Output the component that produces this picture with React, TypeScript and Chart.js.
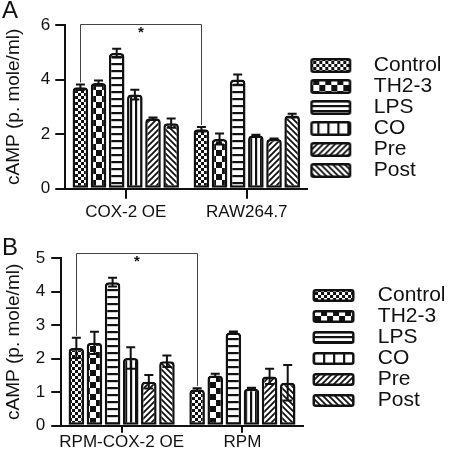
import React, { useEffect, useRef } from 'react';
import { Chart, registerables } from 'chart.js';

Chart.register(...registerables);

const FONT = "'Liberation Sans', Arial, Helvetica, sans-serif";
const INK = '#111';

// ---- data ----
const SERIES = ['Control', 'TH2-3', 'LPS', 'CO', 'Pre', 'Post'];
const PATTERN_KINDS = ['fineCheck', 'coarseCheck', 'hLines', 'vLines', 'diagUp', 'diagDown'];
const Y_TITLE = 'cAMP (p. mole/ml)';

// Panel A
const A_CATEGORIES = ['COX-2 OE', 'RAW264.7'];
const A_COX2_OE = [3.72, 3.87, 4.97, 3.45, 2.57, 2.4];
const A_COX2_OE_ERR = [0.1, 0.1, 0.16, 0.18, 0.04, 0.17];
const A_RAW = [2.18, 1.82, 4.0, 1.95, 1.82, 2.68];
const A_RAW_ERR = [0.08, 0.2, 0.19, 0.03, 0.02, 0.07];
const A_Y_MAX = 6;
const A_Y_STEP = 2;
const A_BRACKET_LEVEL = 6.04;

// Panel B
const B_CATEGORIES = ['RPM-COX-2 OE', 'RPM'];
const B_RPM_COX2 = [2.32, 2.47, 4.28, 2.02, 1.31, 1.92];
const B_RPM_COX2_ERR = [0.3, 0.33, 0.13, 0.32, 0.2, 0.17];
const B_RPM = [1.08, 1.5, 2.78, 1.1, 1.47, 1.28];
const B_RPM_ERR = [0.04, 0.05, 0.03, 0.03, 0.23, 0.53];
const B_Y_MAX = 5;
const B_Y_STEP = 1;
const B_BRACKET_LEVEL = 5.16;

// ---- patterns ----
function patternTile(kind: string, legend: boolean): HTMLCanvasElement {
  const c = document.createElement('canvas');
  let w = 6;
  let h = 6;
  if (kind === 'coarseCheck') { w = 12; h = 12; }
  if (kind === 'hLines') { w = 4; h = legend ? 5 : 7; }
  if (kind === 'vLines') { w = legend ? 10 : 5; h = 4; }
  c.width = w;
  c.height = h;
  const ctx = c.getContext('2d') as CanvasRenderingContext2D;
  ctx.fillStyle = '#fff';
  ctx.fillRect(0, 0, w, h);
  ctx.fillStyle = INK;
  ctx.strokeStyle = INK;
  switch (kind) {
    case 'fineCheck':
      ctx.fillRect(0, 0, 6, 6);
      ctx.fillStyle = '#fff';
      ctx.fillRect(0, 0, 3, 3);
      ctx.fillRect(3, 3, 3, 3);
      break;
    case 'coarseCheck':
      ctx.fillRect(0, 0, 12, 12);
      ctx.fillStyle = '#fff';
      ctx.fillRect(0, 0, 6, 6);
      ctx.fillRect(6, 6, 6, 6);
      break;
    case 'hLines':
      ctx.fillRect(0, 0, w, 2.2);
      break;
    case 'vLines':
      ctx.fillRect(0, 0, 2.2, h);
      break;
    case 'diagUp':
      ctx.lineWidth = 1.8;
      ctx.beginPath();
      ctx.moveTo(-1, 7); ctx.lineTo(7, -1);
      ctx.moveTo(-1, 1); ctx.lineTo(1, -1);
      ctx.moveTo(5, 7); ctx.lineTo(7, 5);
      ctx.stroke();
      break;
    case 'diagDown':
      ctx.lineWidth = 1.8;
      ctx.beginPath();
      ctx.moveTo(-1, -1); ctx.lineTo(7, 7);
      ctx.moveTo(5, -1); ctx.lineTo(7, 1);
      ctx.moveTo(-1, 5); ctx.lineTo(1, 7);
      ctx.stroke();
      break;
  }
  return c;
}

function makePattern(kind: string, legend: boolean): CanvasPattern {
  const tile = patternTile(kind, legend);
  const ctx = tile.getContext('2d') as CanvasRenderingContext2D;
  return ctx.createPattern(tile, 'repeat') as CanvasPattern;
}

function legendImage(kind: string, W: number, H: number, boxX: number, boxW: number): HTMLCanvasElement {
  const c = document.createElement('canvas');
  c.width = W;
  c.height = H;
  const ctx = c.getContext('2d') as CanvasRenderingContext2D;
  ctx.fillStyle = makePattern(kind, true);
  ctx.beginPath();
  const anyCtx = ctx as any;
  if (anyCtx.roundRect) anyCtx.roundRect(boxX + 1.25, 1.25, boxW - 2.5, H - 2.5, 2);
  else ctx.rect(boxX + 1.25, 1.25, boxW - 2.5, H - 2.5);
  ctx.fill();
  ctx.lineWidth = 2.5;
  ctx.strokeStyle = INK;
  ctx.stroke();
  return c;
}

type PanelCfg = {
  letter: string;
  letterLineHeight: number;
  letterPadTop: number;
  categories: string[];
  groups: number[][];
  errs: number[][];
  yMax: number;
  yStep: number;
  bracketLevel: number;
  padding: { top: number; bottom: number; left: number; right: number };
  titlePadBottom: number;
  yTickPadding: number;
  xTickLength: number;
  xTickPadding: number;
  legendW: number;
  legendH: number;
  legendBoxX: number;
  legendBoxW: number;
};

const PANEL_A: PanelCfg = {
  letter: 'A',
  letterLineHeight: 15,
  letterPadTop: -6.5,
  categories: A_CATEGORIES,
  groups: [A_COX2_OE, A_RAW],
  errs: [A_COX2_OE_ERR, A_RAW_ERR],
  yMax: A_Y_MAX,
  yStep: A_Y_STEP,
  bracketLevel: A_BRACKET_LEVEL,
  padding: { top: 10, bottom: 0, left: 2, right: -1.5 },
  titlePadBottom: 11,
  yTickPadding: 5,
  xTickLength: 10,
  xTickPadding: 6,
  legendW: 56,
  legendH: 15,
  legendBoxX: 3,
  legendBoxW: 41,
};

const PANEL_B: PanelCfg = {
  letter: 'B',
  letterLineHeight: 14,
  letterPadTop: -2.5,
  categories: B_CATEGORIES,
  groups: [B_RPM_COX2, B_RPM],
  errs: [B_RPM_COX2_ERR, B_RPM_ERR],
  yMax: B_Y_MAX,
  yStep: B_Y_STEP,
  bracketLevel: B_BRACKET_LEVEL,
  padding: { top: 18, bottom: 0, left: 2, right: -5.5 },
  titlePadBottom: 5,
  yTickPadding: 6,
  xTickLength: 7,
  xTickPadding: 2,
  legendW: 64.5,
  legendH: 13,
  legendBoxX: 9.5,
  legendBoxW: 42,
};

function decorations(cfg: PanelCfg) {
  return {
    id: 'decorations',
    afterDatasetsDraw(chart: any) {
      const ctx: CanvasRenderingContext2D = chart.ctx;
      const y = chart.scales.y;
      ctx.save();
      // error bars
      chart.data.datasets.forEach((ds: any, si: number) => {
        const meta = chart.getDatasetMeta(si);
        meta.data.forEach((bar: any, ci: number) => {
          const v = ds.data[ci] as number;
          const e = cfg.errs[ci][si];
          const yt = y.getPixelForValue(v + e);
          const yb = y.getPixelForValue(v - e);
          ctx.strokeStyle = INK;
          ctx.lineWidth = 2;
          ctx.beginPath();
          ctx.moveTo(bar.x, yb);
          ctx.lineTo(bar.x, yt);
          ctx.moveTo(bar.x - 4.5, yt);
          ctx.lineTo(bar.x + 4.5, yt);
          ctx.moveTo(bar.x - 4.5, yb);
          ctx.lineTo(bar.x + 4.5, yb);
          ctx.stroke();
        });
      });
      // significance bracket between the two Control bars
      const meta0 = chart.getDatasetMeta(0);
      const d0 = chart.data.datasets[0].data as number[];
      const x1 = Math.round(meta0.data[0].x) + 0.5;
      const x2 = Math.round(meta0.data[1].x) + 0.5;
      const yBr = Math.round(y.getPixelForValue(cfg.bracketLevel)) + 0.5;
      const y1 = y.getPixelForValue(d0[0] + cfg.errs[0][0]) - 2;
      const y2 = y.getPixelForValue(d0[1] + cfg.errs[1][0]) - 2;
      ctx.strokeStyle = '#444';
      ctx.lineWidth = 1;
      ctx.beginPath();
      ctx.moveTo(x1, y1);
      ctx.lineTo(x1, yBr);
      ctx.lineTo(x2, yBr);
      ctx.lineTo(x2, y2);
      ctx.stroke();
      ctx.fillStyle = INK;
      ctx.font = `bold 15px ${FONT}`;
      ctx.textAlign = 'center';
      ctx.textBaseline = 'top';
      ctx.fillText('*', (x1 + x2) / 2, yBr + 1);
      ctx.restore();
    },
  };
}

function Panel({ cfg }: { cfg: PanelCfg }) {
  const ref = useRef<HTMLCanvasElement | null>(null);
  useEffect(() => {
    if (!ref.current) return;
    const images = PATTERN_KINDS.map((k) =>
      legendImage(k, cfg.legendW, cfg.legendH, cfg.legendBoxX, cfg.legendBoxW)
    );
    const datasets = SERIES.map((name, si) => ({
      label: name,
      data: cfg.groups.map((g) => g[si]),
      backgroundColor: makePattern(PATTERN_KINDS[si], false),
      borderColor: INK,
      borderWidth: 2.5,
      borderSkipped: false as const,
      borderRadius: { topLeft: 4, topRight: 4, bottomLeft: 0, bottomRight: 0 },
      categoryPercentage: 0.9,
      barPercentage: 0.86,
    }));
    const chart = new Chart(ref.current, {
      type: 'bar',
      data: { labels: cfg.categories, datasets },
      options: {
        animation: false,
        responsive: false,
        devicePixelRatio: 1,
        events: [],
        layout: { padding: cfg.padding },
        plugins: {
          tooltip: { enabled: false },
          title: {
            display: true,
            text: cfg.letter,
            align: 'start',
            color: INK,
            font: { family: FONT, size: 24, weight: 'normal', lineHeight: cfg.letterLineHeight / 24 },
            padding: { top: cfg.letterPadTop, bottom: -cfg.letterPadTop },
          },
          legend: {
            position: 'right',
            align: 'center',
            maxWidth: 200,
            labels: {
              usePointStyle: true,
              pointStyleWidth: cfg.legendW,
              boxHeight: cfg.legendH,
              padding: 0,
              color: INK,
              font: { family: FONT, size: 21 },
              generateLabels: (ch: any) => {
                const items = (Chart.defaults.plugins.legend.labels as any).generateLabels(ch);
                return items.map((it: any, i: number) => ({ ...it, pointStyle: images[i] }));
              },
            },
          },
        },
        scales: {
          x: {
            offset: true,
            grid: {
              offset: false,
              drawOnChartArea: false,
              tickLength: cfg.xTickLength,
              color: INK,
              lineWidth: 2,
            },
            border: { color: INK, width: 2 },
            ticks: {
              color: INK,
              font: { family: FONT, size: 17, lineHeight: 0.9 },
              padding: cfg.xTickPadding,
              maxRotation: 0,
              minRotation: 0,
              autoSkip: false,
            },
          },
          y: {
            min: 0,
            max: cfg.yMax,
            ticks: {
              stepSize: cfg.yStep,
              color: INK,
              font: { family: FONT, size: 17 },
              padding: cfg.yTickPadding,
            },
            grid: { drawOnChartArea: false, tickLength: 10, color: INK, lineWidth: 2 },
            border: { color: INK, width: 2 },
            title: {
              display: true,
              text: Y_TITLE,
              color: INK,
              font: { family: FONT, size: 19 },
              padding: { top: 0, bottom: cfg.titlePadBottom },
            },
          },
        },
      },
      plugins: [decorations(cfg)],
    });
    return () => chart.destroy();
  }, [cfg]);
  return <canvas ref={ref} width={450} height={226} style={{ display: 'block', width: 450, height: 226 }} />;
}

export default function App() {
  return (
    <div style={{ position: 'absolute', left: 0, top: 0, width: 450, height: 452, background: '#fff' }}>
      <Panel cfg={PANEL_A} />
      <Panel cfg={PANEL_B} />
    </div>
  );
}
